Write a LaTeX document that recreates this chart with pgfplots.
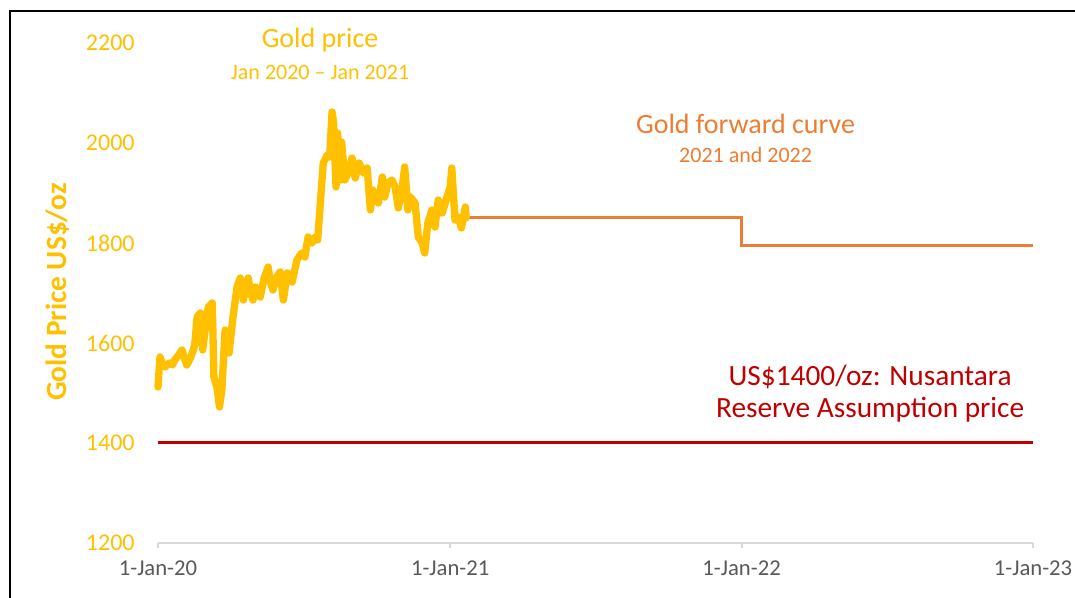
\documentclass[border=0pt]{standalone}
\usepackage{fontspec}
\setmainfont{Carlito}
\usepackage{pgfplots}
\pgfplotsset{compat=1.18}
\definecolor{goldc}{HTML}{FFC000}
\definecolor{orangec}{HTML}{ED7D31}
\definecolor{redc}{HTML}{C00000}
\definecolor{axisgray}{HTML}{D9D9D9}
\definecolor{labgray}{HTML}{595959}
\begin{document}
\begin{tikzpicture}
\path[use as bounding box] (0,0) rectangle (806.25pt,448.5pt);
\draw[line width=1.5pt, black] (7.5pt,-2pt) -- (7.5pt,440.25pt) -- (810pt,440.25pt);
\begin{axis}[
  at={(118.5pt,41.25pt)}, anchor=south west,
  scale only axis, width=656.25pt, height=375pt,
  xmin=0, xmax=1096, ymin=1200, ymax=2200,
  clip=false,
  axis lines*=left,
  y axis line style={draw=none},
  x axis line style={draw=axisgray, line width=1.5pt},
  xtick={0,366,731,1096},
  xticklabels={1-Jan-20,1-Jan-21,1-Jan-22,1-Jan-23},
  ytick={1200,1400,1600,1800,2000,2200},
  tick align=outside,
  x tick style={draw=axisgray, line width=1.5pt},
  major tick length=4pt,
  y tick style={draw=none},
  xticklabel style={text=labgray, font=\fontsize{17}{17}\selectfont, yshift=-6pt},
  yticklabel style={text=goldc, font=\fontsize{18}{18}\selectfont, xshift=-10pt},
  /pgf/number format/assume math mode=true,
  /pgf/number format/1000 sep={},
]
\addplot[redc, line width=2.25pt] coordinates {(0,1400) (1096,1400)};
\addplot[orangec, line width=2.25pt] coordinates {(386,1850) (731,1850) (731,1794) (1096,1794)};
\addplot[goldc, line width=5.5pt, line join=round, line cap=round] coordinates {
(0,1512) (2.5,1572) (5,1560) (9,1552) (12,1558) (15,1560) (18,1556) (21,1566) (25,1574) (30,1586) (33,1570) (36,1556) (40,1568) (43,1580) (46,1596) (49,1652) (53,1660) (56,1586) (60,1640) (63,1672) (68,1680) (70,1532) (74,1510) (77,1472) (80,1506) (84,1626) (87,1600) (89,1580) (94,1652) (99,1712) (103,1730) (107,1686) (110,1712) (113,1730) (116,1700) (119,1686) (122,1712) (125,1700) (128,1692) (133,1730) (138,1752) (141,1720) (144,1706) (148,1730) (153,1742) (157,1686) (162,1740) (168,1722) (174,1766) (180,1780) (184,1772) (188,1812) (193,1800) (197,1812) (200,1806) (203,1872) (207,1960) (212,1976) (215,1972) (218,2062) (220,2040) (223,1912) (225,2020) (229,1926) (230,2002) (234,1926) (238,1940) (243,1970) (247,1930) (252,1960) (257,1940) (262,1950) (266,1866) (269,1906) (273,1890) (276,1880) (281,1932) (284,1892) (288,1920) (293,1926) (297,1912) (301,1870) (306,1912) (309,1952) (313,1866) (316,1892) (322,1880) (326,1812) (331,1800) (334,1780) (338,1840) (343,1866) (347,1832) (351,1886) (356,1860) (362,1892) (366,1912) (368,1950) (372,1846) (376,1852) (380,1830) (382,1846) (385,1872) (386,1850)
};
\node[text=goldc, font=\fontsize{21}{21}\selectfont] at (axis cs:203,2206) {Gold price};
\node[text=goldc, font=\fontsize{16.5}{16.5}\selectfont] at (axis cs:203,2142) {Jan 2020 – Jan 2021};
\node[text=orangec, font=\fontsize{21}{21}\selectfont] at (axis cs:736,2038) {Gold forward curve};
\node[text=orangec, font=\fontsize{16.5}{16.5}\selectfont] at (axis cs:736,1976) {2021 and 2022};
\node[text=redc, font=\fontsize{22}{22}\selectfont] at (axis cs:892,1532) {US\$1400/oz: Nusantara};
\node[text=redc, font=\fontsize{22}{22}\selectfont] at (axis cs:892,1466) {Reserve Assumption price};
\end{axis}
\node[rotate=90, text=goldc, font=\bfseries\fontsize{22}{22}\selectfont] at (43.5pt,229.5pt) {Gold Price US\$/oz};
\end{tikzpicture}
\end{document}
